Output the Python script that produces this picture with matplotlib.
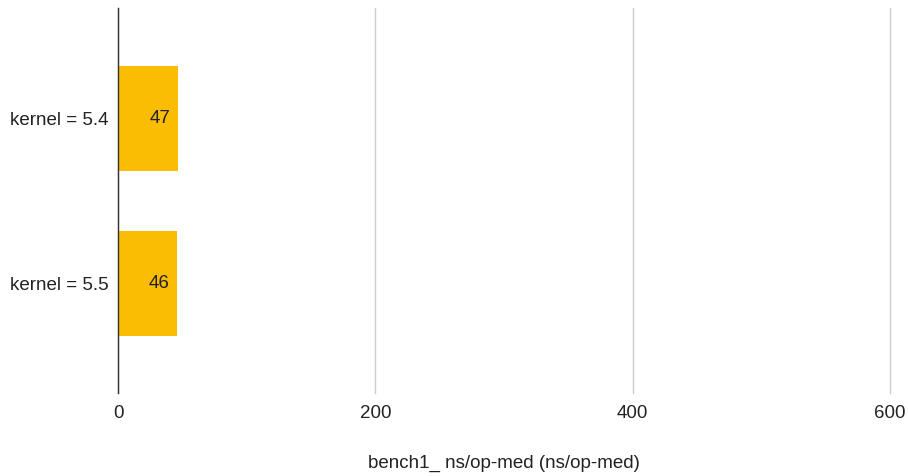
import matplotlib.pyplot as plt

plt.rcParams['font.family'] = ['Liberation Sans', 'DejaVu Sans']

categories = ['kernel = 5.4', 'kernel = 5.5']
values = [47, 46]
xticks = [0, 200, 400, 600]

fig = plt.figure(figsize=(9.08, 4.76), dpi=100)
ax = fig.add_axes([118 / 908, 1 - 393 / 476, (890 - 118) / 908, 385 / 476])

ypos = list(range(len(categories)))
bars = ax.barh(ypos, values, height=0.636, color='#FBBC04', zorder=3)

for y, v in zip(ypos, values):
    ax.text(v - 6, y, str(v), ha='right', va='center', fontsize=13.5, color='#222222', zorder=4)

ax.set_xlim(0, 600)
ax.set_ylim(1.665, -0.67)
ax.set_xticks(xticks)
ax.set_xticklabels([str(t) for t in xticks], fontsize=13.5, color='#222222')
ax.set_yticks(ypos)
ax.set_yticklabels(categories, fontsize=13.5, color='#222222')
ax.tick_params(axis='both', length=0)
ax.tick_params(axis='y', pad=7)
ax.tick_params(axis='x', pad=9)

ax.grid(axis='x', color='#cccccc', linewidth=1, zorder=0)
for gl in ax.get_xgridlines():
    gl.set_clip_on(False)
for s in ['top', 'right', 'bottom']:
    ax.spines[s].set_visible(False)
ax.spines['left'].set_color('#333333')
ax.spines['left'].set_linewidth(1)
ax.spines['left'].set_zorder(5)

ax.set_xlabel('bench1_ ns/op-med (ns/op-med)', fontsize=13.5, color='#222222', labelpad=23)

fig.savefig('out.png', dpi=100)
